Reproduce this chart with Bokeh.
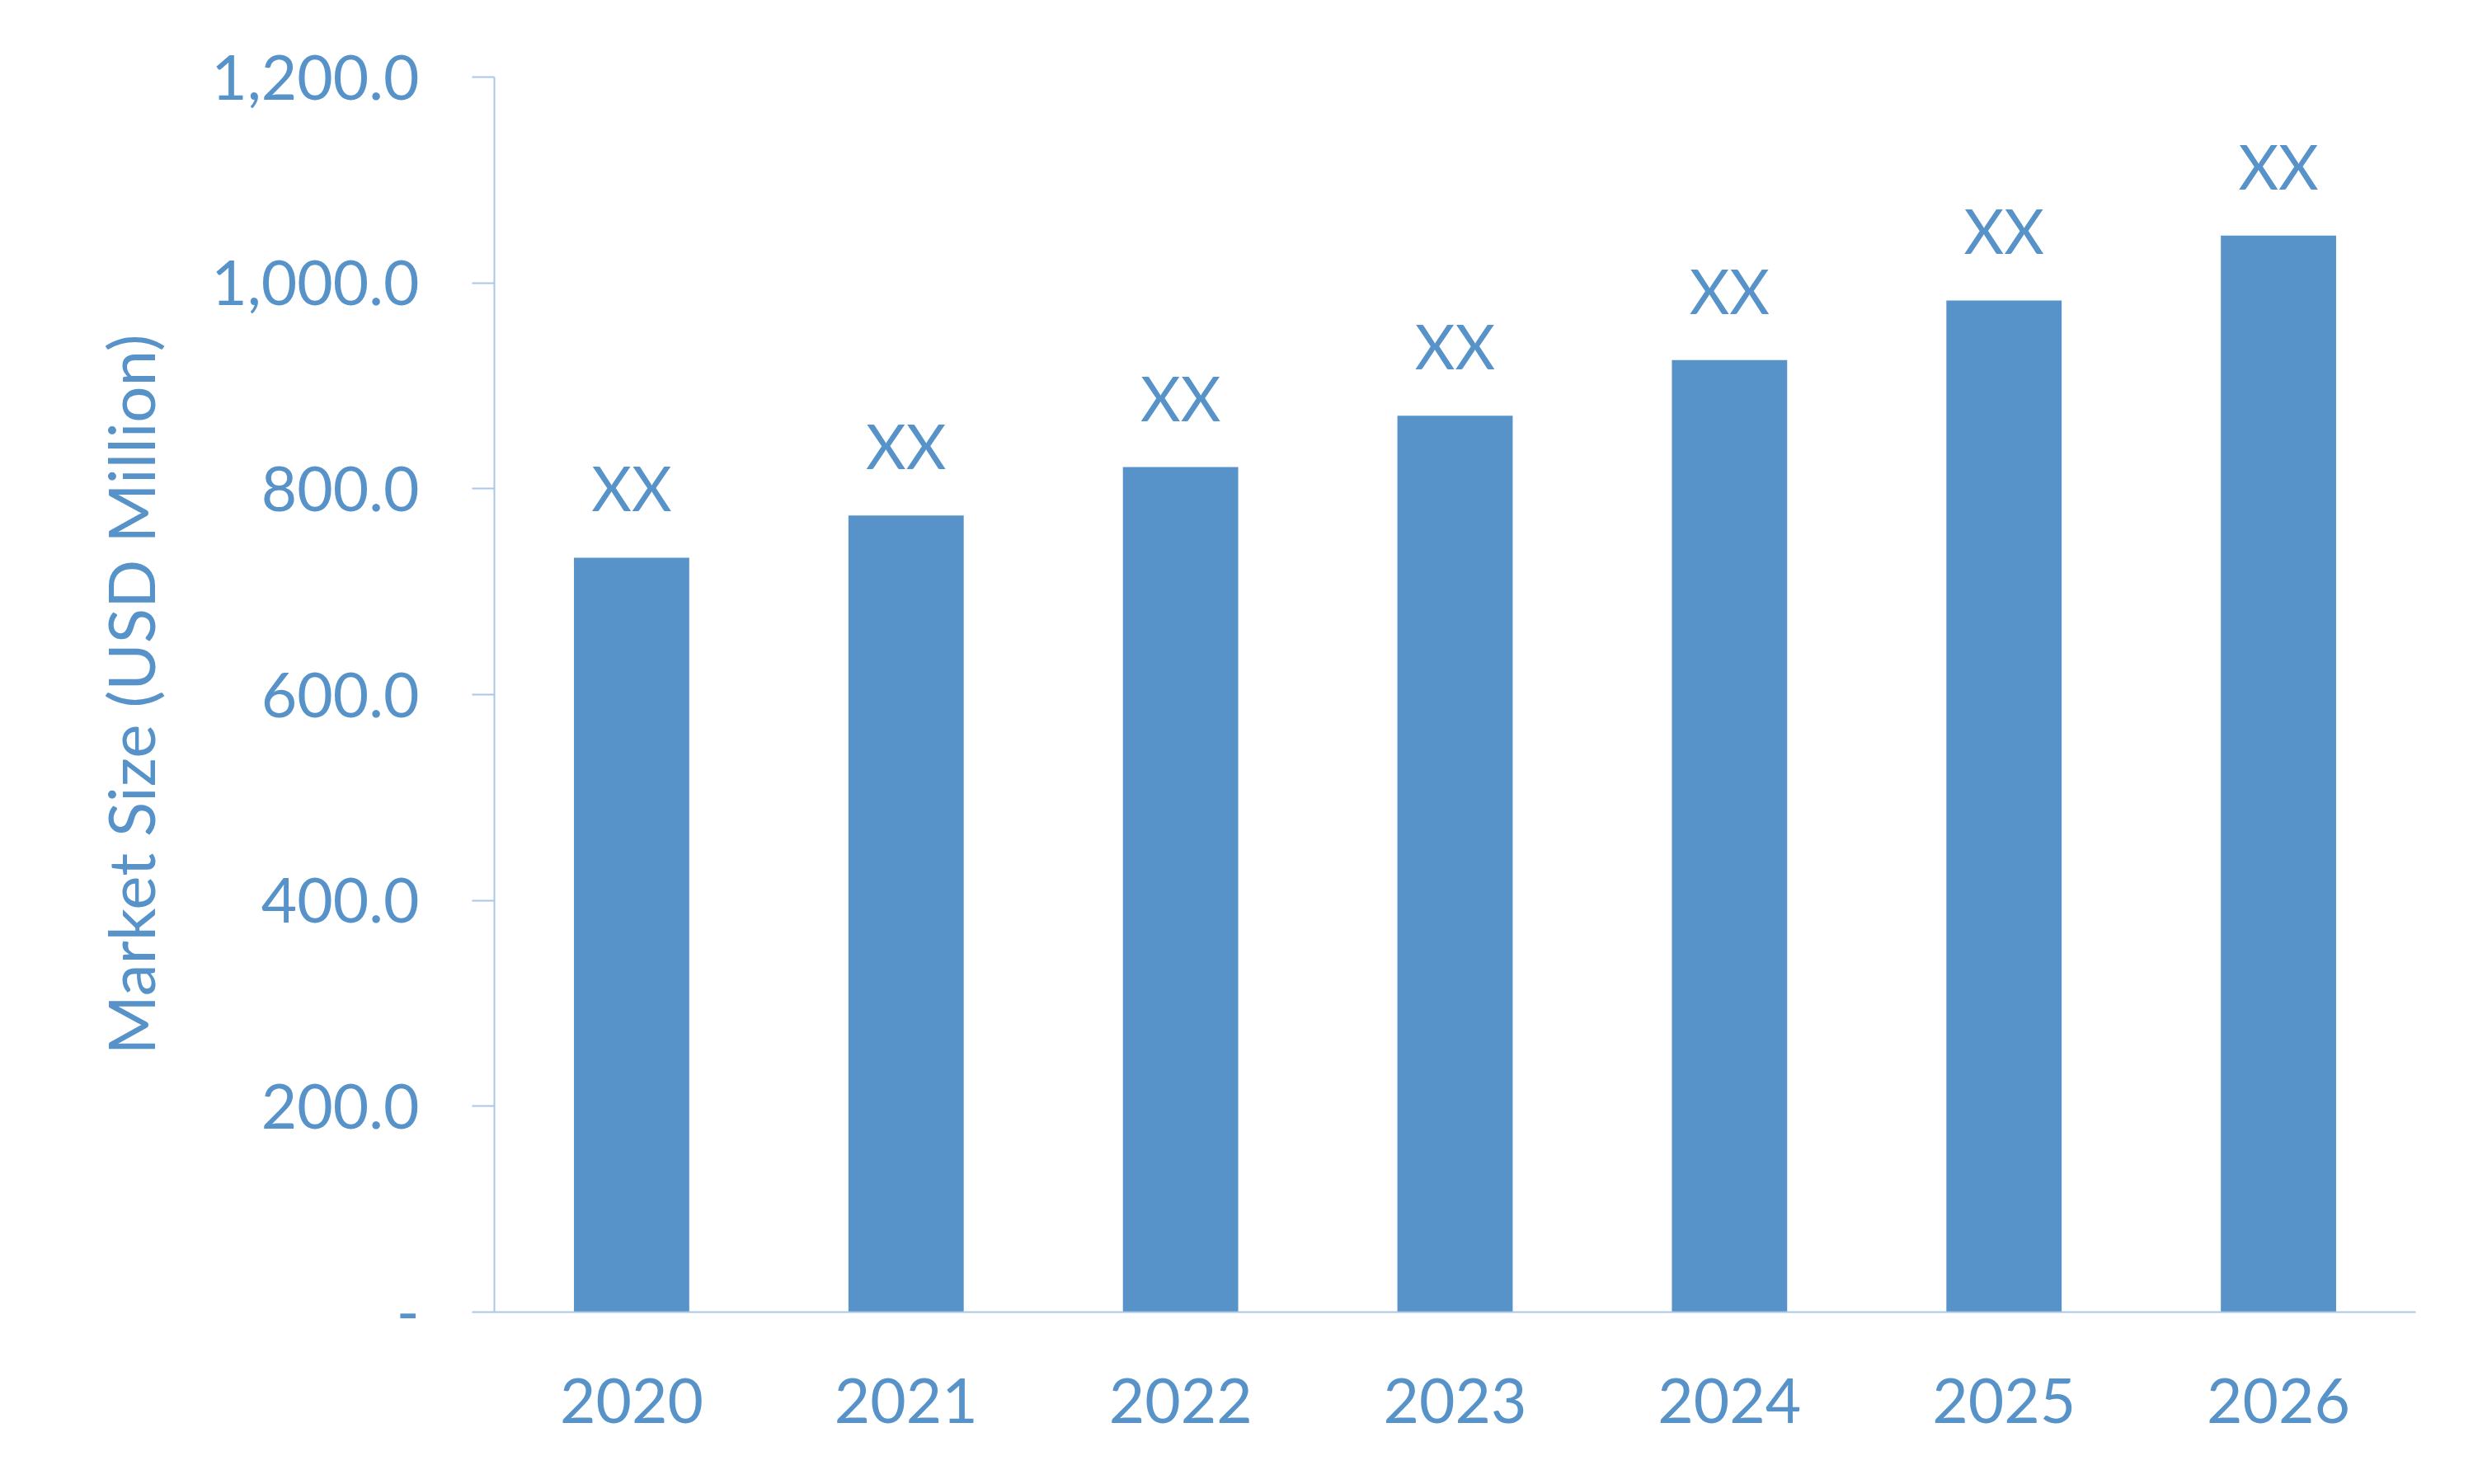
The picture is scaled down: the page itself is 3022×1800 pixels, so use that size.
from bokeh.plotting import figure
from bokeh.models import ColumnDataSource, FixedTicker
from bokeh.core.properties import value
from bokeh.embed import file_html
from bokeh.resources import INLINE

# chart data
years = ["2020", "2021", "2022", "2023", "2024", "2025", "2026"]
market_size = [733, 774, 821, 871, 925, 983, 1046]
bar_labels = ["XX", "XX", "XX", "XX", "XX", "XX", "XX"]
y_ticks = [0, 200, 400, 600, 800, 1000, 1200]
y_tick_labels = ["-", "200.0", "400.0", "600.0", "800.0", "1,000.0", "1,200.0"]

BLUE = "#5793C9"
AXIS_BLUE = "#A9C7E8"
FONT = "Lato"
FONT_SIZE = "75px"

source = ColumnDataSource(data=dict(years=years, size=market_size, labels=bar_labels))

p = figure(x_range=years, y_range=(0, 1200), width=3000, height=1780,
           toolbar_location=None, tools="", output_backend="svg",
           min_border_left=599, min_border_right=71,
           min_border_top=93, min_border_bottom=189)

p.outline_line_color = None
p.xgrid.grid_line_color = None
p.ygrid.grid_line_color = None
p.background_fill_color = "white"
p.border_fill_color = "white"

# bars
p.vbar(x="years", top="size", bottom=0, width=0.42, source=source,
       fill_color=BLUE, line_color=None)

# value labels above the bars
p.text(x="years", y="size", text="labels", source=source,
       text_align="center", text_baseline="alphabetic", y_offset=-85,
       text_color=BLUE, text_font=value(FONT), text_font_size=FONT_SIZE)

# y axis
p.yaxis.ticker = FixedTicker(ticks=y_ticks)
p.yaxis.major_label_overrides = dict(zip(y_ticks, y_tick_labels))
p.yaxis.axis_label = "Market Size (USD Million)"
p.yaxis.axis_label_text_font = FONT
p.yaxis.axis_label_text_font_size = "78px"
p.yaxis.axis_label_text_font_style = "normal"
p.yaxis.axis_label_text_color = BLUE
p.yaxis.axis_label_standoff = 48
p.yaxis.major_label_text_font = FONT
p.yaxis.major_label_text_font_size = FONT_SIZE
p.yaxis.major_label_text_color = BLUE
p.yaxis.major_label_standoff = 64
p.yaxis.major_tick_out = 27
p.yaxis.major_tick_in = 0
p.yaxis.major_tick_line_color = AXIS_BLUE
p.yaxis.major_tick_line_width = 2
p.yaxis.minor_tick_line_color = None
p.yaxis.axis_line_color = AXIS_BLUE
p.yaxis.axis_line_width = 2

# x axis
p.xaxis.major_label_text_font = FONT
p.xaxis.major_label_text_font_size = FONT_SIZE
p.xaxis.major_label_text_color = BLUE
p.xaxis.major_label_standoff = 74
p.xaxis.major_tick_line_color = None
p.xaxis.minor_tick_line_color = None
p.xaxis.axis_line_color = AXIS_BLUE
p.xaxis.axis_line_width = 2

open("out.html", "w").write(file_html(p, INLINE))
